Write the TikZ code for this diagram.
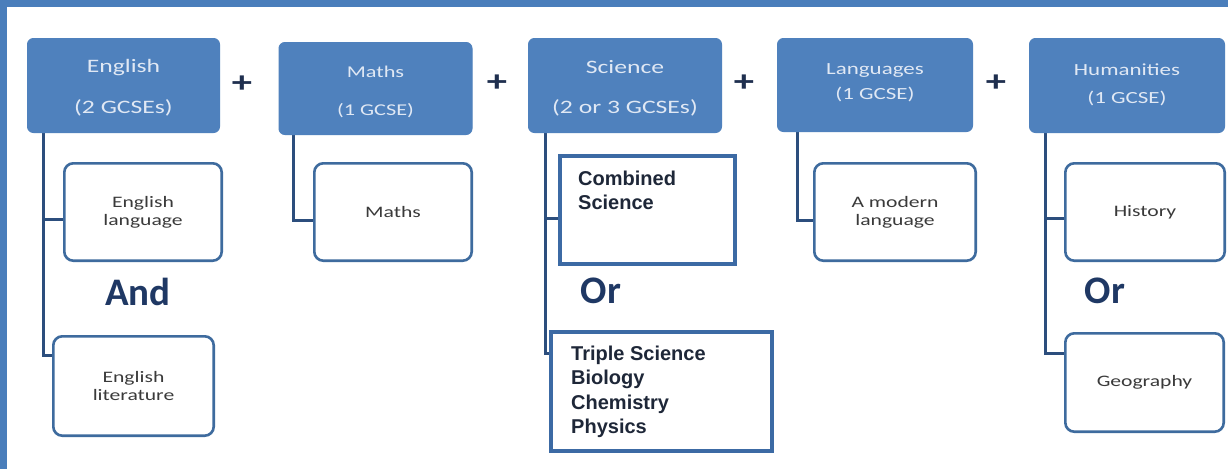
\documentclass[tikz,border=0pt]{standalone}
\usepackage{fontspec}
\newfontfamily\calw[FakeStretch=1.35]{Carlito}
\newfontfamily\caln{Carlito}
\newfontfamily\arl{Liberation Sans}
\definecolor{framec}{HTML}{4A7EBB}
\definecolor{hdrblue}{HTML}{4F81BD}
\definecolor{hdrtext}{HTML}{E0E8F4}
\definecolor{childblue}{HTML}{3E6B9E}
\definecolor{connblue}{HTML}{2C4E7D}
\definecolor{childtext}{HTML}{3A3A3A}
\definecolor{sciblue}{HTML}{3C6AA4}
\definecolor{scitext}{HTML}{1E2738}
\definecolor{joinc}{HTML}{1F3864}
\definecolor{plusc}{HTML}{1F2F4F}
\pgfdeclarelayer{backdrop}
\pgfdeclarelayer{lines}
\pgfsetlayers{backdrop,lines,main}
\begin{document}
\begin{tikzpicture}[x=1pt,y=-1pt,
  hdr/.style={draw=hdrblue, fill=hdrblue, rounded corners=6pt, inner sep=0pt, line width=1pt},
  htxt/.style={text=hdrtext, align=center, inner sep=0pt},
  child/.style={draw=childblue, fill=white, line width=2.6pt, rounded corners=9pt, inner sep=0pt, align=center, text=childtext, font=\calw\fontsize{16}{18}\selectfont},
  sbox/.style={draw=sciblue, fill=white, line width=4pt, inner sep=0pt},
  stxt/.style={text=scitext, align=left, inner sep=0pt, font=\arl\bfseries\fontsize{20}{24.5}\selectfont},
  conn/.style={draw=connblue, line width=3pt},
  plussign/.style={text=plusc, font=\calw\bfseries\fontsize{30}{30}\selectfont, inner sep=0pt},
  joinword/.style={text=joinc, font=\caln\bfseries\fontsize{39}{39}\selectfont, inner sep=0pt}
]
\useasboundingbox (0,0) rectangle (1228,469);
\begin{pgfonlayer}{backdrop}
\fill[white] (0,0) rectangle (1228,469);
\fill[framec] (0,0) rectangle (1228,7);
\fill[framec] (0,0) rectangle (7,469);
\end{pgfonlayer}

% header boxes
\node[hdr, minimum width=192pt, minimum height=94pt] (engH) at (123.5,85.5) {};
\node[hdr, minimum width=193pt, minimum height=92pt] (mathH) at (375.5,88.5) {};
\node[hdr, minimum width=193pt, minimum height=94pt] (sciH) at (625,85.5) {};
\node[hdr, minimum width=195pt, minimum height=93pt] (langH) at (875,85) {};
\node[hdr, minimum width=195pt, minimum height=94pt] (humH) at (1127,85.5) {};

\node[htxt, font=\calw\fontsize{19}{41}\selectfont] (engT) at (123.5,87.7) {English\\(2 GCSEs)};
\node[htxt, font=\calw\fontsize{16.5}{38}\selectfont] (mathT) at (375.5,92) {Maths\\(1 GCSE)};
\node[htxt, font=\calw\fontsize{19}{40}\selectfont] (sciT) at (625,88.3) {Science\\(2 or 3 GCSEs)};
\node[htxt, font=\calw\fontsize{17}{25}\selectfont] (langT) at (875,82.5) {Languages\\(1 GCSE)};
\node[htxt, font=\calw\fontsize{17}{28}\selectfont] (humT) at (1127,85) {Humanities\\(1 GCSE)};

% plus signs
\node[plussign] (p1) at (242,84) {+};
\node[plussign] (p2) at (497,83) {+};
\node[plussign] (p3) at (744,83) {+};
\node[plussign] (p4) at (996,83) {+};

% child boxes
\node[child, minimum width=157.4pt, minimum height=97.4pt] (englang) at (143,212) {English\\language};
\node[child, minimum width=160.4pt, minimum height=99.4pt] (englit) at (133.5,386) {English\\literature};
\node[child, minimum width=157.4pt, minimum height=97.4pt] (mathC) at (393,212) {Maths};
\node[child, minimum width=161.4pt, minimum height=97.4pt] (langC) at (895,212) {A modern\\language};
\node[child, minimum width=159.4pt, minimum height=97.4pt] (hist) at (1145,212) {History};
\node[child, minimum width=158.4pt, minimum height=98.4pt] (geo) at (1144.5,382.5) {Geography};
\node[sbox, minimum width=175pt, minimum height=108pt] (comb) at (647.5,210) {};
\node[sbox, minimum width=221pt, minimum height=119pt] (trip) at (661.5,391.5) {};

\node[stxt, anchor=north west] (combT) at (578,170.5) {Combined\\Science};
\node[stxt, anchor=north west] (tripT) at (571,345.5) {Triple Science\\Biology\\Chemistry\\Physics};

% connectors, drawn beneath the boxes
\begin{pgfonlayer}{lines}
\draw[conn] ([xshift=16pt]engH.south west) |- ([yshift=-7pt]englang.west);
\draw[conn] ([xshift=16pt]engH.south west) |- ([yshift=-20pt]englit.north west);
\draw[conn] ([xshift=15pt]mathH.south west) |- ([yshift=-8pt]mathC.west);
\draw[conn] ([xshift=17pt]sciH.south west) |- ([yshift=-8pt]comb.west);
\draw[conn] ([xshift=17pt]sciH.south west) |- ([yshift=-23pt]trip.north west);
\draw[conn] ([xshift=20pt]langH.south west) |- ([yshift=-8pt]langC.west);
\draw[conn] ([xshift=16pt]humH.south west) |- ([yshift=-6pt]hist.west);
\draw[conn] ([xshift=16pt]humH.south west) |- ([yshift=-21pt]geo.north west);
\end{pgfonlayer}

% joining words
\node[joinword, anchor=base] (andW) at (138,305) {And};
\node[joinword, anchor=base] (orS) at (601,303) {Or};
\node[joinword, anchor=base] (orH) at (1105,303) {Or};
\end{tikzpicture}
\end{document}
